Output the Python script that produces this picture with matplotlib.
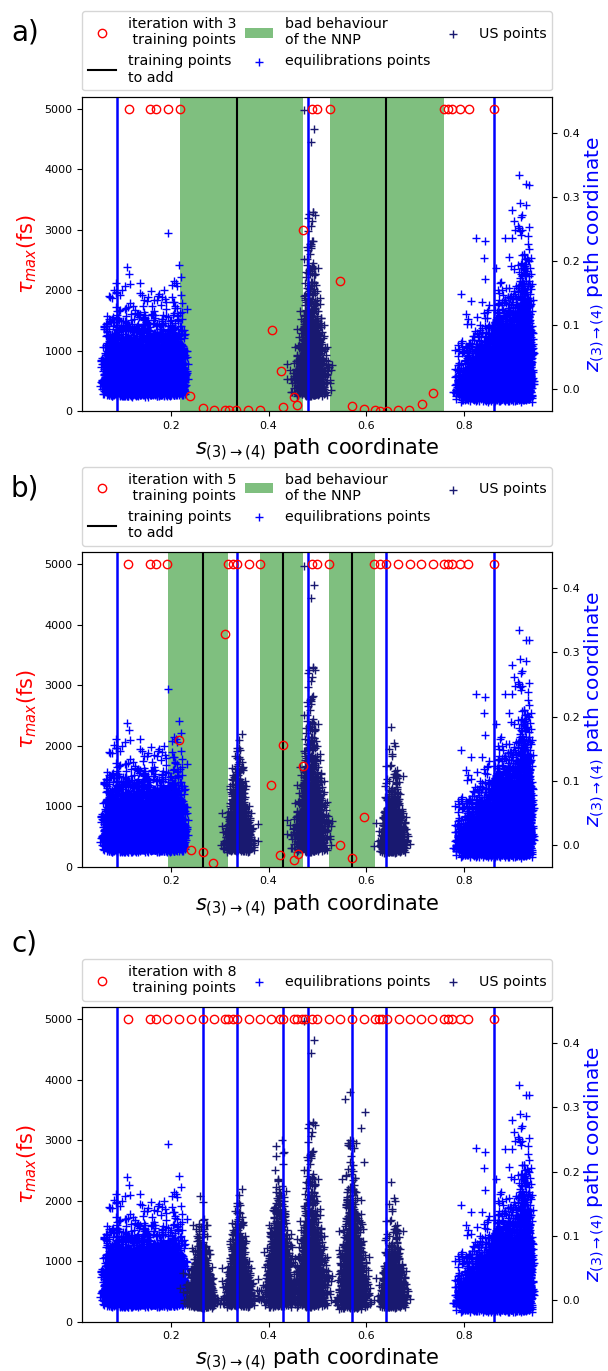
import numpy as np
import matplotlib.pyplot as plt
from matplotlib.lines import Line2D
from matplotlib.patches import Patch

# max. simulation time reached (fs) for every s value, per iteration
s_a = [0.115, 0.158, 0.170, 0.194, 0.218, 0.240, 0.265, 0.288, 0.310, 0.319,
       0.334, 0.358, 0.382, 0.407, 0.425, 0.430, 0.453, 0.459, 0.4705, 0.489,
       0.500, 0.525, 0.547, 0.571, 0.595, 0.619, 0.629, 0.643, 0.665, 0.688,
       0.7135, 0.737, 0.759, 0.767, 0.776, 0.793, 0.810, 0.862]
tau_a = [5000, 5000, 5000, 5000, 5000, 250, 45, 17, 10, 10,
         10, 10, 10, 1340, 660, 66, 230, 100, 3000, 5000,
         5000, 5000, 2150, 80, 28, 10, 8, 8, 10, 10,
         115, 290, 5000, 5000, 5000, 5000, 5000, 5000]

s_b = [0.113, 0.158, 0.170, 0.193, 0.217, 0.241, 0.265, 0.287, 0.311, 0.317,
       0.327, 0.335, 0.359, 0.382, 0.406, 0.424, 0.4295, 0.453, 0.4595, 0.4705,
       0.489, 0.500, 0.523, 0.547, 0.571, 0.595, 0.617, 0.629, 0.641, 0.665,
       0.689, 0.713, 0.737, 0.759, 0.768, 0.776, 0.793, 0.809, 0.862]
tau_b = [5000, 5000, 5000, 5000, 2090, 270, 250, 55, 3850, 5000,
         5000, 5000, 5000, 5000, 1360, 195, 2020, 110, 210, 1660,
         5000, 5000, 5000, 360, 150, 820, 5000, 5000, 5000, 5000,
         5000, 5000, 5000, 5000, 5000, 5000, 5000, 5000, 5000]

s_c = [0.113, 0.157, 0.170, 0.193, 0.217, 0.241, 0.265, 0.288, 0.311, 0.317,
       0.327, 0.335, 0.359, 0.382, 0.405, 0.424, 0.429, 0.452, 0.459, 0.468,
       0.475, 0.489, 0.500, 0.524, 0.547, 0.571, 0.595, 0.618, 0.627, 0.633,
       0.643, 0.667, 0.689, 0.712, 0.736, 0.759, 0.768, 0.776, 0.793, 0.809,
       0.862]
tau_c = [5000] * len(s_c)

# regions where the NNP misbehaves
bad_a = [(0.218, 0.4705), (0.525, 0.759)]
bad_b = [(0.194, 0.317), (0.383, 0.4705), (0.524, 0.618)]

# windows already in the training set / to be added
trained_a = [0.089, 0.480, 0.862]
to_add_a = [0.335, 0.641]
trained_b = [0.089, 0.335, 0.480, 0.641, 0.862]
to_add_b = [0.265, 0.429, 0.571]
trained_c = [0.089, 0.265, 0.335, 0.429, 0.480, 0.571, 0.641, 0.862]

# sampled (s, z) clouds: equilibration runs at both ends, US windows in between
equil_center = [0.146, 0.857]
equil_half = [0.078, 0.078]
equil_floor = [-0.012, -0.020]
equil_theta = [0.021, 0.030]
equil_n = [5000, 5500]

us_center = [0.262, 0.338, 0.421, 0.487, 0.572, 0.655]
us_width = [0.014, 0.014, 0.015, 0.016, 0.014, 0.013]
us_floor = [-0.013, -0.012, -0.012, -0.012, -0.015, -0.013]
us_theta = [0.019, 0.022, 0.030, 0.032, 0.034, 0.020]
us_n = [1100, 1100, 1400, 1500, 1400, 1000]
us_panels = [{"c"}, {"b", "c"}, {"c"}, {"a", "b", "c"}, {"c"}, {"b", "c"}]

# a few isolated points far above the clouds
us_out_s = [0.473, 0.493, 0.488, 0.495, 0.490, 0.487, 0.597, 0.579, 0.567, 0.596]
us_out_z = [0.435, 0.405, 0.385, 0.272, 0.262, 0.255, 0.292, 0.245, 0.240, 0.215]
eq_out_s = [0.899, 0.928, 0.903, 0.917, 0.920, 0.826, 0.843, 0.842]
eq_out_z = [0.280, 0.287, 0.262, 0.268, 0.248, 0.236, 0.231, 0.205]

rng = np.random.default_rng(7)

equil_s, equil_z = [], []
# left equilibration cloud: flat in s
n = equil_n[0]
s = rng.uniform(equil_center[0] - equil_half[0], equil_center[0] + equil_half[0], n)
s += rng.normal(0, 0.006, n)
z = equil_floor[0] + rng.gamma(2.0, equil_theta[0], n)
equil_s.append(s); equil_z.append(z)
# right equilibration cloud: denser and taller towards large s
n = equil_n[1]
u = np.sqrt(rng.uniform(0, 1, n))
s = (equil_center[1] - equil_half[1]) + 2 * equil_half[1] * u + rng.normal(0, 0.004, n)
z = equil_floor[1] + rng.gamma(2.0, equil_theta[1] * (0.6 + 0.6 * u ** 2), n)
equil_s.append(s); equil_z.append(z)
equil_s = np.concatenate(equil_s + [np.array(eq_out_s)])
equil_z = np.concatenate(equil_z + [np.array(eq_out_z)])

us_s, us_z = [], []
for c, w, fl, th, n in zip(us_center, us_width, us_floor, us_theta, us_n):
    z = fl + rng.gamma(1.8, th, n)
    h = (z - fl) / (4 * th)
    s = c + w * rng.normal(0, 1, n) * (1 - 0.45 * np.clip(h, 0, 1))
    us_s.append(s); us_z.append(z)


def draw_panel(rect, letter, s_it, tau_it, n_train, bad, trained, to_add):
    ax = fig.add_axes(rect)
    axz = ax.twinx()
    ax.set_zorder(axz.get_zorder() + 1)
    ax.patch.set_visible(False)

    for lo, hi in bad:
        axz.axvspan(lo, hi, color='green', alpha=0.5, lw=0, zorder=0)
    eq = axz.scatter(equil_s, equil_z, marker='+', color='blue', s=34,
                     linewidths=1, zorder=1)
    keep = [i for i, p in enumerate(us_panels) if letter in p]
    ss = np.concatenate([us_s[i] for i in keep])
    zz = np.concatenate([us_z[i] for i in keep])
    if 3 in keep:
        ss = np.concatenate([ss, us_out_s[:6]])
        zz = np.concatenate([zz, us_out_z[:6]])
    if 4 in keep:
        ss = np.concatenate([ss, us_out_s[6:]])
        zz = np.concatenate([zz, us_out_z[6:]])
    us = axz.scatter(ss, zz, marker='+', color='midnightblue', s=34,
                     linewidths=1, zorder=1)
    for x in trained:
        axz.axvline(x, color='blue', lw=1.8, zorder=3)
    for x in to_add:
        axz.axvline(x, color='black', lw=1.5, zorder=3)

    circ, = ax.plot(s_it, tau_it, 'o', mfc='none', mec='red', ms=6, mew=1.0)

    ax.set_xlim(0.018, 0.981)
    ax.set_ylim(0, 5200)
    axz.set_ylim(-0.034, 0.456)
    ax.tick_params(labelsize=8)
    axz.tick_params(labelsize=8)
    ax.set_xlabel(r'$s_{(3)\rightarrow(4)}$ path coordinate', fontsize=15)
    ax.set_ylabel(r'$\tau_{max}$(fs)', color='red', fontsize=15)
    axz.set_ylabel(r'$z_{(3)\rightarrow(4)}$ path coordinate', color='blue',
                   fontsize=14.5, labelpad=2)

    circ.set_label('iteration with %d\n training points' % n_train)
    eq.set_label('equilibrations points')
    us.set_label('US points')
    if bad:
        handles = [circ,
                   Line2D([], [], color='black', lw=1.5, label='training points\nto add'),
                   Patch(color='green', alpha=0.5, lw=0, label='bad behaviour\nof the NNP'),
                   eq, us]
    else:
        handles = [circ, eq, us]
    ax.legend(handles=handles, bbox_to_anchor=(0., 1.02, 1., .102),
              loc='lower left', ncol=3, mode='expand', borderaxespad=0.,
              fontsize=10.3)

    fig.text(0.041, rect[1] + rect[3] + 0.0465, letter + ')', fontsize=20,
             ha='center', va='center')
    return ax


fig = plt.figure(figsize=(6.08, 13.71), dpi=100)
left, width, height = 0.135, 0.773, 0.2293
draw_panel([left, 0.7002, width, height], 'a', s_a, tau_a, 3, bad_a, trained_a, to_add_a)
draw_panel([left, 0.3678, width, height], 'b', s_b, tau_b, 5, bad_b, trained_b, to_add_b)
draw_panel([left, 0.0360, width, height], 'c', s_c, tau_c, 8, [], trained_c, [])

plt.savefig('out.png', dpi=100)
